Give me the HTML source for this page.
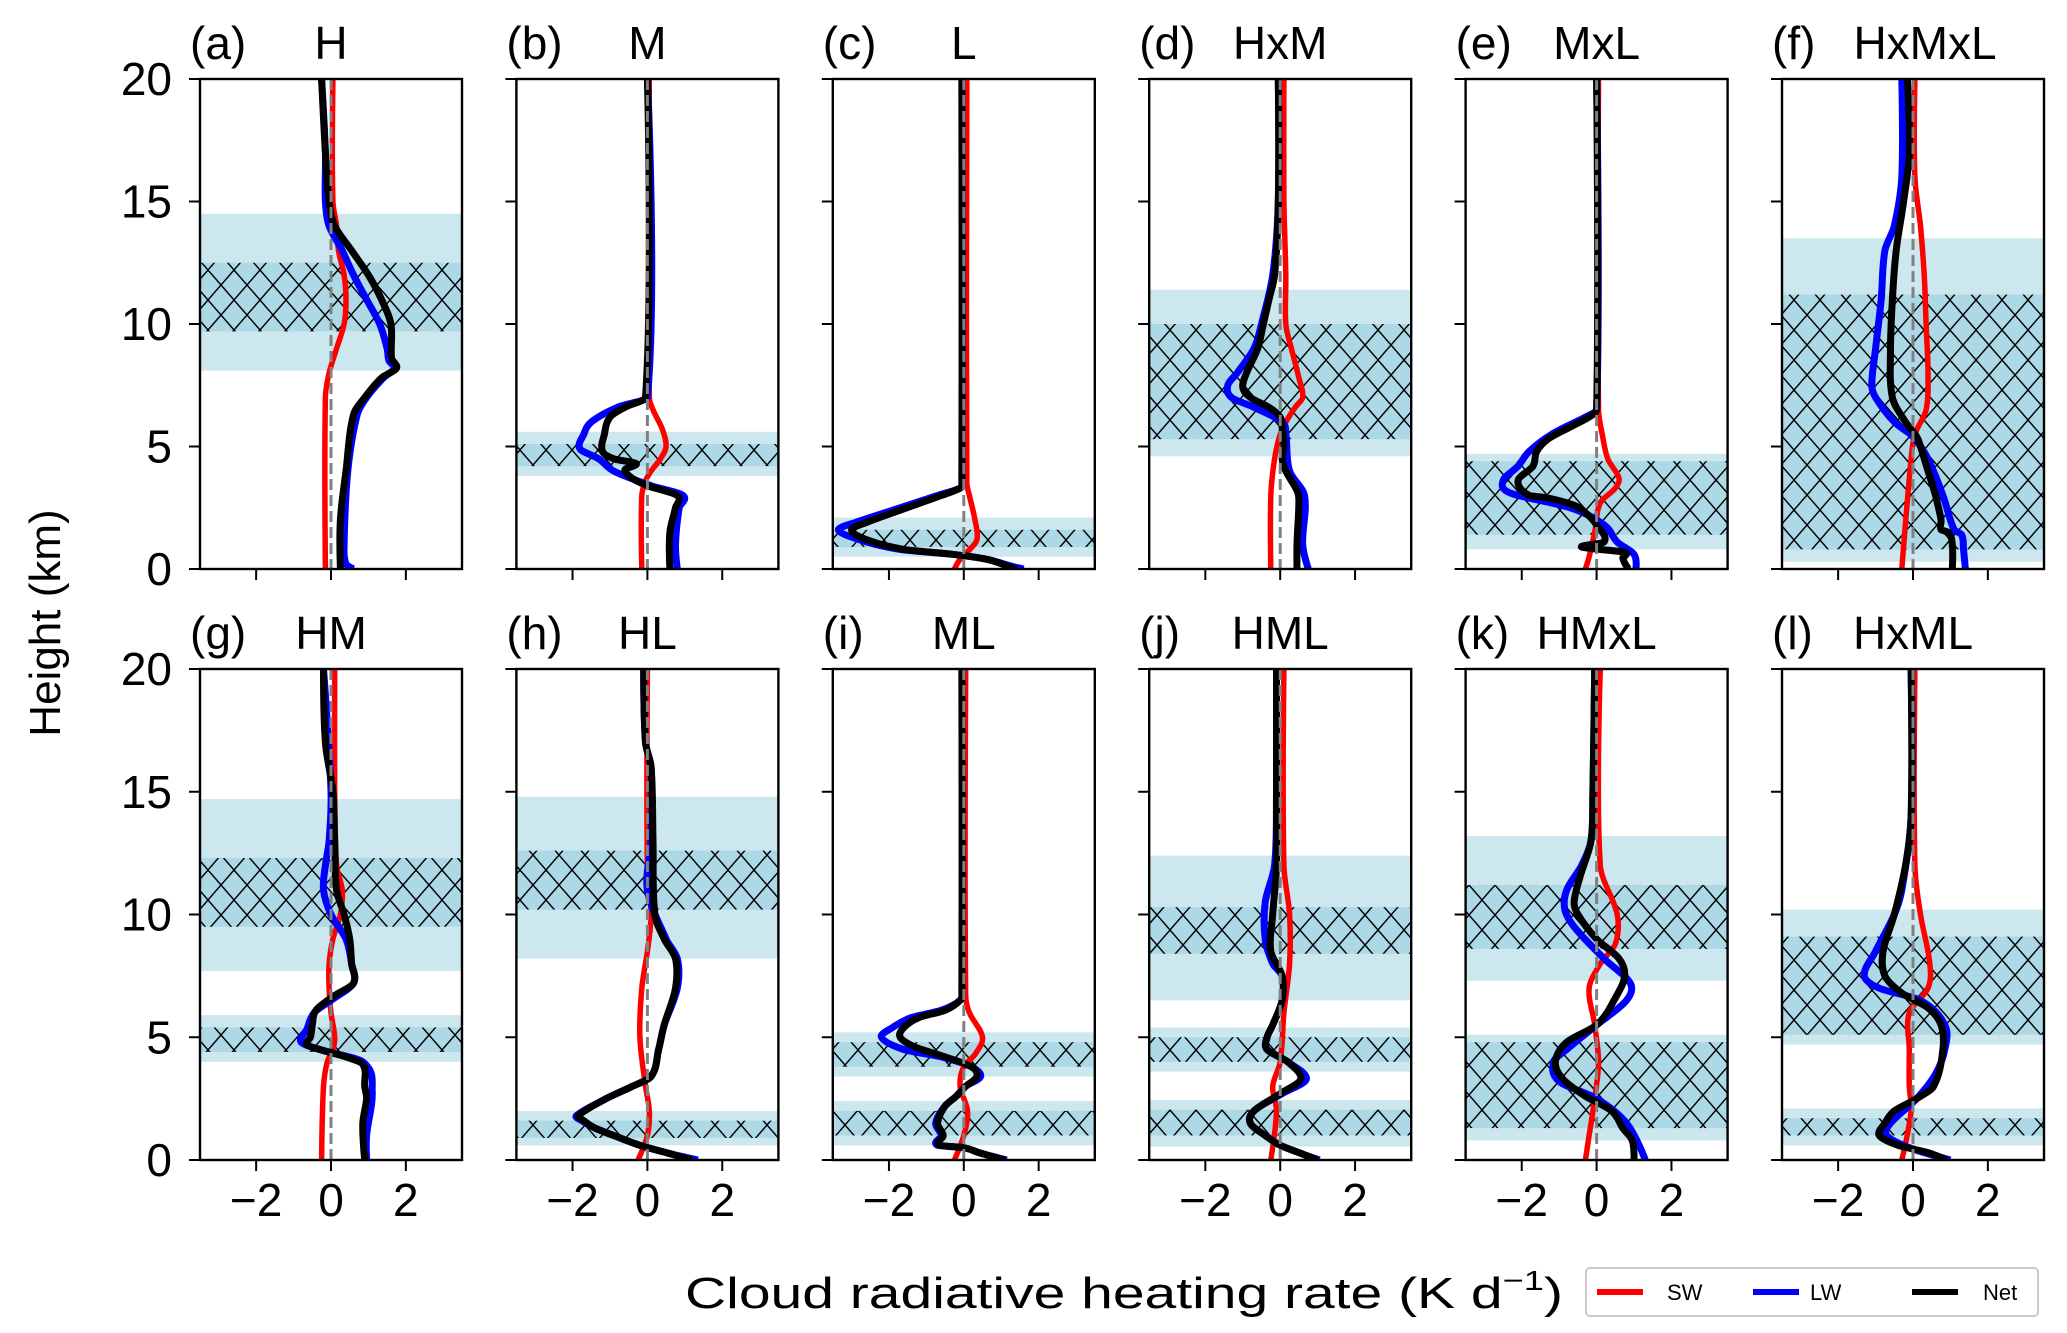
<!DOCTYPE html>
<html><head><meta charset="utf-8"><style>
html,body{margin:0;padding:0;background:#fff;}
svg{display:block;font-family:"Liberation Sans","DejaVu Sans",sans-serif;}
</style></head><body>
<svg id="fig" width="2067" height="1333" viewBox="0 0 2067 1333" xmlns="http://www.w3.org/2000/svg">
<defs>
<pattern id="hatch" patternUnits="userSpaceOnUse" width="26" height="30">
<line x1="0" y1="0" x2="26" y2="30" stroke="#000" stroke-width="1.4"/>
<line x1="26" y1="0" x2="0" y2="30" stroke="#000" stroke-width="1.4"/>
</pattern>
</defs>
<text x="0" y="0" transform="translate(60,623) rotate(-90)" text-anchor="middle" font-size="44">Height (km)</text>
<text x="685" y="1308" font-size="44" textLength="878" lengthAdjust="spacingAndGlyphs">Cloud radiative heating rate (K d<tspan font-size="28" dy="-18">−1</tspan><tspan dy="18">)</tspan></text>
<g>
<rect x="1586" y="1268" width="452" height="48" rx="4" fill="#fff" stroke="#ccc" stroke-width="2"/>
<line x1="1597" y1="1292" x2="1643" y2="1292" stroke="#f00" stroke-width="6"/>
<text x="1667" y="1300" font-size="22">SW</text>
<line x1="1753" y1="1292" x2="1799" y2="1292" stroke="#00f" stroke-width="6"/>
<text x="1810" y="1300" font-size="22">LW</text>
<line x1="1912" y1="1292" x2="1958" y2="1292" stroke="#000" stroke-width="6"/>
<text x="1983" y="1300" font-size="22">Net</text>
</g>
</svg>
<script>
// ---------- data ----------
const panelLabels = ["(a)","(b)","(c)","(d)","(e)","(f)","(g)","(h)","(i)","(j)","(k)","(l)"];
const panelTitles = ["H","M","L","HxM","MxL","HxMxL","HM","HL","ML","HML","HMxL","HxML"];
const xTicks = [-2, 0, 2];
const xTickLabels = ["−2","0","2"];
const yTicks = [0, 5, 10, 15, 20];
const yTickLabels = ["0","5","10","15","20"];
// bands: [lightLow, lightHigh, hatchLow, hatchHigh]
const bandsA = [[8.1,14.5,9.7,12.5]];
const bandsB = [[3.8,5.6,4.2,5.1]];
const bandsC = [[0.5,2.1,0.9,1.6]];
const bandsD = [[4.6,11.4,5.3,10.0]];
const bandsE = [[0.8,4.7,1.4,4.4]];
const bandsF = [[0.3,13.5,0.8,11.2]];
const bandsG = [[7.7,14.7,9.5,12.3],[4.0,5.9,4.4,5.4]];
const bandsH = [[8.2,14.8,10.2,12.6],[0.6,2.0,0.9,1.6]];
const bandsI = [[3.4,5.2,3.8,4.8],[0.6,2.4,1.0,2.0]];
const bandsJ = [[6.5,12.4,8.4,10.3],[3.6,5.4,4.0,5.0],[0.55,2.45,1.0,2.05]];
const bandsK = [[7.3,13.2,8.6,11.2],[0.8,5.1,1.3,4.8]];
const bandsL = [[4.7,10.2,5.1,9.1],[0.6,2.1,1.0,1.7]];
// series: [height km, value K/d]
const swA = [[20,0.05],[15,0.05],[14,0.15],[13,0.2],[12,0.35],[11,0.4],[10,0.35],[9,0.15],[8,-0.05],[7,-0.15],[0,-0.15]];
const lwA = [[20,-0.25],[17,-0.15],[15,-0.15],[14,-0.05],[13,0.3],[12,0.6],[11,0.95],[10,1.3],[9,1.5],[8.5,1.55],[8.2,1.7],[7.8,1.4],[7,0.95],[6.3,0.7],[4,0.45],[1,0.35],[0.2,0.4],[0,0.6]];
const netA = [[20,-0.25],[17,-0.15],[15,-0.05],[14,0.1],[13,0.55],[12,1.0],[11,1.35],[10,1.6],[8.6,1.62],[8.2,1.75],[7.8,1.35],[7,0.9],[6.3,0.6],[4,0.4],[2,0.25],[0,0.25]];
const swB = [[20,0.05],[7,0.05],[6.5,0.15],[5.7,0.4],[5,0.5],[4.5,0.35],[4,0.1],[3.6,-0.05],[3,-0.15],[0,-0.15]];
const lwB = [[20,0],[7,0],[6.6,-0.8],[6,-1.5],[5.5,-1.7],[4.9,-1.8],[4.5,-1.3],[4.0,-0.9],[3.4,0.1],[3.0,0.95],[2.5,0.85],[1,0.75],[0,0.8]];
const netB = [[20,0],[7,-0.05],[6.6,-0.6],[6.2,-1.0],[5.5,-1.15],[4.8,-1.2],[4.5,-0.9],[4.3,-0.3],[4.05,-0.6],[3.7,-0.4],[3.4,0],[3.0,0.8],[2.5,0.75],[1.5,0.6],[0,0.6]];
const swC = [[20,0.08],[3.5,0.08],[3,0.15],[2,0.3],[1.2,0.35],[0.7,0.1],[0.4,-0.1],[0,-0.25]];
const lwC = [[20,-0.05],[3.5,-0.05],[3.3,-0.1],[3.0,-0.7],[2.4,-1.9],[1.9,-2.9],[1.6,-3.35],[1.2,-2.8],[0.8,-1.7],[0.6,-0.3],[0.4,0.6],[0.1,1.3],[0,1.6]];
const netC = [[20,-0.05],[3.5,-0.05],[3.3,-0.1],[3.0,-0.6],[2.4,-1.7],[1.9,-2.6],[1.6,-3.0],[1.2,-2.6],[0.8,-1.6],[0.6,-0.3],[0.4,0.6],[0.1,1.2],[0,1.4]];
const swD = [[20,0.1],[15,0.1],[12,0.15],[10,0.15],[9,0.3],[7.8,0.5],[7.0,0.6],[6.6,0.4],[6.0,0.15],[5.5,0.0],[4.5,-0.15],[3,-0.25],[0,-0.25]];
const lwD = [[20,-0.05],[15,-0.05],[12,-0.2],[10,-0.5],[9,-0.7],[8,-1.15],[7.5,-1.4],[7.0,-1.3],[6.6,-0.7],[6.0,0.05],[5.5,0.15],[4,0.25],[3,0.65],[1,0.6],[0,0.75]];
const netD = [[20,-0.05],[15,-0.05],[12,-0.15],[11,-0.3],[10,-0.45],[9,-0.6],[8,-0.9],[7.4,-1.0],[7.0,-0.8],[6.6,-0.3],[6.2,0],[5.8,0.05],[5,0.1],[4.5,0.05],[4,0.15],[3.2,0.45],[2.8,0.5],[1,0.45],[0,0.45]];
const swE = [[20,0.05],[6.5,0.05],[5.5,0.15],[4.5,0.3],[3.7,0.6],[3.3,0.5],[2.7,0.1],[1.5,-0.05],[0.5,-0.2],[0,-0.3]];
const lwE = [[20,0],[6.5,0],[6.2,-0.3],[5.5,-1.2],[4.8,-1.8],[4.2,-2.1],[3.6,-2.5],[3.1,-2.3],[2.5,-0.7],[1.8,0.2],[1.1,0.55],[0.6,1.0],[0,1.05]];
const netE = [[20,0],[6.5,0],[6.2,-0.2],[5.8,-0.7],[5.3,-1.3],[4.8,-1.6],[4.2,-1.7],[3.6,-2.1],[3.0,-1.8],[2.9,-1.3],[2.6,-0.6],[2.3,-0.3],[1.8,0],[1.1,0.2],[0.9,-0.4],[0.7,0.7],[0.6,0.8],[0.45,0.7],[0,0.85]];
const swF = [[20,0.05],[16,0.05],[14,0.2],[12,0.3],[10,0.35],[8,0.4],[6.5,0.35],[5.5,0.05],[4.5,-0.05],[0,-0.3]];
const lwF = [[20,-0.3],[16,-0.3],[14,-0.5],[13,-0.75],[11,-0.85],[9,-1.0],[7.5,-1.1],[7,-1.0],[6,-0.5],[5.4,0],[4.5,0.4],[3,0.8],[1.6,1.1],[1.4,1.3],[0.8,1.35],[0,1.4]];
const netF = [[20,-0.15],[17,-0.1],[15,-0.25],[13,-0.45],[11,-0.55],[9,-0.6],[7,-0.55],[6,-0.2],[5.4,0.1],[5,0.2],[4,0.4],[3,0.6],[2,0.75],[1.6,0.75],[1.5,0.95],[1,1.05],[0,1.05]];
const swG = [[20,0.1],[15,0.1],[12,0.15],[11,0.3],[10,0.25],[9,0.05],[8,-0.05],[7,-0.05],[6,0.0],[5,0.1],[4.5,0.05],[4,-0.1],[3,-0.2],[0,-0.25]];
const lwG = [[20,-0.2],[15,0.0],[13,-0.05],[12,-0.15],[11,-0.2],[10,0.0],[9,0.4],[8,0.55],[7.2,0.6],[6.5,0.0],[6,-0.45],[5.3,-0.65],[4.8,-0.8],[4.5,-0.3],[4.0,0.85],[2.8,1.1],[1,0.95],[0,0.95]];
const netG = [[20,-0.2],[17,-0.15],[15,0.05],[13,0.1],[11,0.15],[10,0.35],[9,0.5],[8,0.55],[7.2,0.6],[6.7,0.1],[6.1,-0.4],[5.5,-0.5],[5.0,-0.55],[4.7,-0.65],[4.5,-0.3],[4.2,0.4],[3.9,0.85],[3,0.9],[2.5,0.95],[1.5,0.85],[0,0.9]];
const swH = [[20,0],[12,0],[10,0.1],[8.5,0],[7,-0.15],[5,-0.2],[3,-0.05],[2,0.05],[1,0],[0,-0.25]];
const lwH = [[20,-0.1],[17,-0.05],[16,0.1],[13,0.1],[11,0.0],[9,0.5],[8.2,0.8],[7,0.8],[5.5,0.45],[4.5,0.3],[3.4,0.1],[3.0,-0.4],[2.5,-1.1],[1.8,-1.9],[1.6,-1.75],[1.3,-1.4],[1.0,-0.9],[0.6,-0.2],[0.3,0.5],[0,1.35]];
const netH = [[20,-0.1],[17,-0.05],[16,0.1],[13,0.15],[10,0.2],[9,0.45],[8.2,0.75],[7,0.75],[5.5,0.45],[4.5,0.3],[3.4,0.1],[3.0,-0.4],[2.5,-1.1],[1.8,-1.85],[1.6,-1.7],[1.3,-1.4],[1.0,-0.9],[0.6,-0.2],[0.3,0.5],[0,1.2]];
const swI = [[20,0.05],[6.7,0.05],[6,0.15],[5,0.5],[4.3,0.3],[3.8,0],[3,-0.1],[2,0.1],[1,0],[0,-0.25]];
const lwI = [[20,-0.05],[6.8,-0.05],[6.5,-0.1],[6.1,-0.6],[5.8,-1.4],[5.4,-1.9],[5.0,-2.2],[4.5,-1.6],[4.2,-0.6],[3.8,0.2],[3.4,0.45],[3.0,0.05],[2.6,-0.2],[2.2,-0.5],[1.5,-0.75],[1.0,-0.6],[0.6,-0.7],[0.5,0],[0.3,0.4],[0,1.15]];
const netI = [[20,-0.05],[6.8,-0.05],[6.5,-0.1],[6.1,-0.5],[5.8,-1.2],[5.4,-1.6],[5.0,-1.7],[4.6,-1.3],[4.2,-0.5],[3.8,0.2],[3.4,0.35],[3.0,0.05],[2.6,-0.2],[2.2,-0.5],[1.5,-0.7],[1.0,-0.55],[0.6,-0.65],[0.5,0],[0.3,0.4],[0,1.1]];
const swJ = [[20,0.1],[12,0.1],[10,0.25],[8,0.25],[6,0.1],[4,0],[3,-0.2],[2,-0.1],[0,-0.25]];
const lwJ = [[20,-0.1],[15,-0.1],[12,-0.15],[10.5,-0.4],[9,-0.4],[8,-0.2],[7.5,0.05],[6.5,0.05],[5.5,-0.2],[5.0,-0.35],[4.5,-0.35],[4.0,0.2],[3.3,0.7],[2.7,0.05],[2.0,-0.7],[1.5,-0.8],[1.0,-0.4],[0.6,0],[0.3,0.5],[0,1.05]];
const netJ = [[20,-0.1],[15,-0.1],[12,-0.1],[10,-0.2],[8.5,-0.25],[7.5,0.05],[6.5,0.05],[5.5,-0.2],[5.0,-0.35],[4.5,-0.35],[4.0,0.2],[3.3,0.55],[2.7,0],[2.0,-0.7],[1.5,-0.8],[1.0,-0.4],[0.6,0],[0.3,0.5],[0,1.0]];
const swK = [[20,0.1],[12,0.1],[10,0.55],[8.8,0.5],[8,0.1],[7,-0.2],[5.5,-0.05],[4,0.05],[2.5,-0.05],[1,-0.2],[0,-0.3]];
const lwK = [[20,-0.05],[15,-0.1],[13,-0.15],[12,-0.4],[11,-0.8],[10.2,-0.85],[9.5,-0.6],[8.2,0.2],[7.2,0.9],[6.5,0.8],[5.5,0],[4.5,-0.8],[4,-1.15],[3.2,-1.0],[2.5,0],[1.5,0.8],[0,1.3]];
const netK = [[20,-0.05],[15,-0.1],[13,-0.15],[11.5,-0.45],[10.5,-0.6],[10,-0.5],[9,0],[8.2,0.6],[7.5,0.75],[6.6,0.5],[5.5,0],[4.8,-0.8],[4.0,-1.1],[3.3,-0.9],[2.6,-0.3],[2,0.4],[1.3,0.7],[0.8,0.95],[0,1.0]];
const swL = [[20,0.05],[12,0.05],[10,0.2],[8,0.45],[7,0.4],[6,-0.1],[4.5,-0.1],[3,-0.1],[2,-0.05],[0,-0.3]];
const lwL = [[20,-0.05],[14,-0.05],[11,-0.3],[10,-0.5],[8.5,-1.0],[7.5,-1.3],[7.0,-0.9],[6.5,0.2],[5.5,0.85],[4.5,0.85],[3.5,0.6],[2.5,0.1],[1.5,-0.6],[1.0,-0.7],[0.5,-0.1],[0,1.0]];
const netL = [[20,-0.05],[14,-0.05],[12,-0.2],[10,-0.5],[8.5,-0.8],[7.5,-0.75],[6.8,-0.3],[6.2,0.4],[5.5,0.75],[4.5,0.8],[3.0,0.55],[2.5,0.1],[2.0,-0.5],[1.5,-0.75],[1.0,-0.9],[0.6,-0.4],[0.3,0.4],[0,0.9]];

const allBands = [bandsA,bandsB,bandsC,bandsD,bandsE,bandsF,bandsG,bandsH,bandsI,bandsJ,bandsK,bandsL];
const allSW = [swA,swB,swC,swD,swE,swF,swG,swH,swI,swJ,swK,swL];
const allLW = [lwA,lwB,lwC,lwD,lwE,lwF,lwG,lwH,lwI,lwJ,lwK,lwL];
const allNet = [netA,netB,netC,netD,netE,netF,netG,netH,netI,netJ,netK,netL];

// ---------- drawing ----------
const NS = "http://www.w3.org/2000/svg";
const svg = document.getElementById("fig");
const XMIN = -3.5, XMAX = 3.5, YMIN = 0, YMAX = 20;
const PW = 262, PH = [490, 491], TOPS = [79, 669];
function mk(tag, attrs, parent) {
  const e = document.createElementNS(NS, tag);
  for (const k in attrs) e.setAttribute(k, attrs[k]);
  parent.appendChild(e);
  return e;
}
function pathFrom(pts, xs, ys) {
  const P = pts.map(p => [xs(p[1]), ys(p[0])]);
  const n = P.length;
  const dist = (a, b) => Math.max(0.001, Math.abs(b[1] - a[1]));
  let d = "M" + P[0][0].toFixed(1) + "," + P[0][1].toFixed(1);
  for (let i = 0; i < n - 1; i++) {
    const p0 = P[Math.max(0, i - 1)], p1 = P[i], p2 = P[i + 1], p3 = P[Math.min(n - 1, i + 2)];
    const d01 = i > 0 ? dist(p0, p1) : 0, d12 = dist(p1, p2), d23 = i + 2 < n ? dist(p2, p3) : 0;
    const s1 = i > 0 ? d12 / (d01 + d12) / 3 * 2 / 2 : 0;
    const s2 = i + 2 < n ? d12 / (d12 + d23) / 3 : 0;
    const k1 = i > 0 ? d12 / (d01 + d12) / 1.5 / 2 : 0;
    const c1 = [p1[0] + (p2[0] - p0[0]) * k1, p1[1] + (p2[1] - p0[1]) * k1];
    const k2 = i + 2 < n ? d12 / (d12 + d23) / 1.5 / 2 : 0;
    const c2 = [p2[0] - (p3[0] - p1[0]) * k2, p2[1] - (p3[1] - p1[1]) * k2];
    d += "C" + c1[0].toFixed(1) + "," + c1[1].toFixed(1) + " " + c2[0].toFixed(1) + "," + c2[1].toFixed(1) + " " + p2[0].toFixed(1) + "," + p2[1].toFixed(1);
  }
  return d;
}
for (let i = 0; i < 12; i++) {
  const row = Math.floor(i / 6), col = i % 6;
  const L = 200 + 316.4 * col, T = TOPS[row], H = PH[row];
  const xs = v => L + (v - XMIN) / (XMAX - XMIN) * PW;
  const ys = h => T + (YMAX - h) / (YMAX - YMIN) * H;
  const g = mk("g", {}, svg);
  
  
  const clipId = "clip" + i;
  const cp = mk("clipPath", { id: clipId }, g);
  mk("rect", { x: L, y: T, width: PW, height: H }, cp);
  const plot = mk("g", { "clip-path": "url(#" + clipId + ")" }, g);
  allBands[i].forEach(b => {
    const r1 = mk("rect", { x: L, y: ys(b[1]), width: PW, height: ys(b[0]) - ys(b[1]), fill: "#cde7ef" }, plot);
    
    
    const r2 = mk("rect", { x: L, y: ys(b[3]), width: PW, height: ys(b[2]) - ys(b[3]), fill: "#add8e6" }, plot);
    
    
    mk("rect", { x: L, y: ys(b[3]), width: PW, height: ys(b[2]) - ys(b[3]), fill: "url(#hatch)" }, plot);
  });
  const series = [[allSW[i], "#ff0000", 5.5, "sw-line"], [allLW[i], "#0000ff", 7, "lw-line"], [allNet[i], "#000000", 7, "net-line"]];
  series.forEach(s => {
    const p = mk("path", { d: pathFrom(s[0], xs, ys), fill: "none", stroke: s[1], "stroke-width": s[2], "stroke-linejoin": "round", "stroke-linecap": "butt" }, plot);
    
    
  });
  const z = mk("line", { x1: xs(0), x2: xs(0), y1: T, y2: T + H, stroke: "#808080", "stroke-width": 3, "stroke-dasharray": "11,5" }, plot);
  
  
  const fr = mk("rect", { x: L, y: T, width: PW, height: H, fill: "none", stroke: "#000", "stroke-width": 2.4 }, g);
  
  
  yTicks.forEach((t, k) => {
    mk("line", { x1: L - 11, x2: L, y1: ys(t), y2: ys(t), stroke: "#000", "stroke-width": 2 }, g);
    if (col === 0) {
      const tl = mk("text", { x: L - 28, y: ys(t) + 16, "text-anchor": "end", "font-size": 46 }, g);
      
      
      tl.textContent = yTickLabels[k];
    }
  });
  xTicks.forEach((t, k) => {
    mk("line", { x1: xs(t), x2: xs(t), y1: T + H, y2: T + H + 11, stroke: "#000", "stroke-width": 2 }, g);
    if (row === 1) {
      const tl = mk("text", { x: xs(t), y: 1216, "text-anchor": "middle", "font-size": 46 }, g);
      
      
      tl.textContent = xTickLabels[k];
    }
  });
  const lab = mk("text", { x: L - 10, y: T - 20, "font-size": 46 }, g);
  
  
  lab.textContent = panelLabels[i];
  const ttl = mk("text", { x: L + PW / 2 + (panelTitles[i].length > 4 ? 12 : 0), y: T - 20, "text-anchor": "middle", "font-size": 46 }, g);
  
  
  ttl.textContent = panelTitles[i];
}
</script>
</body></html>
